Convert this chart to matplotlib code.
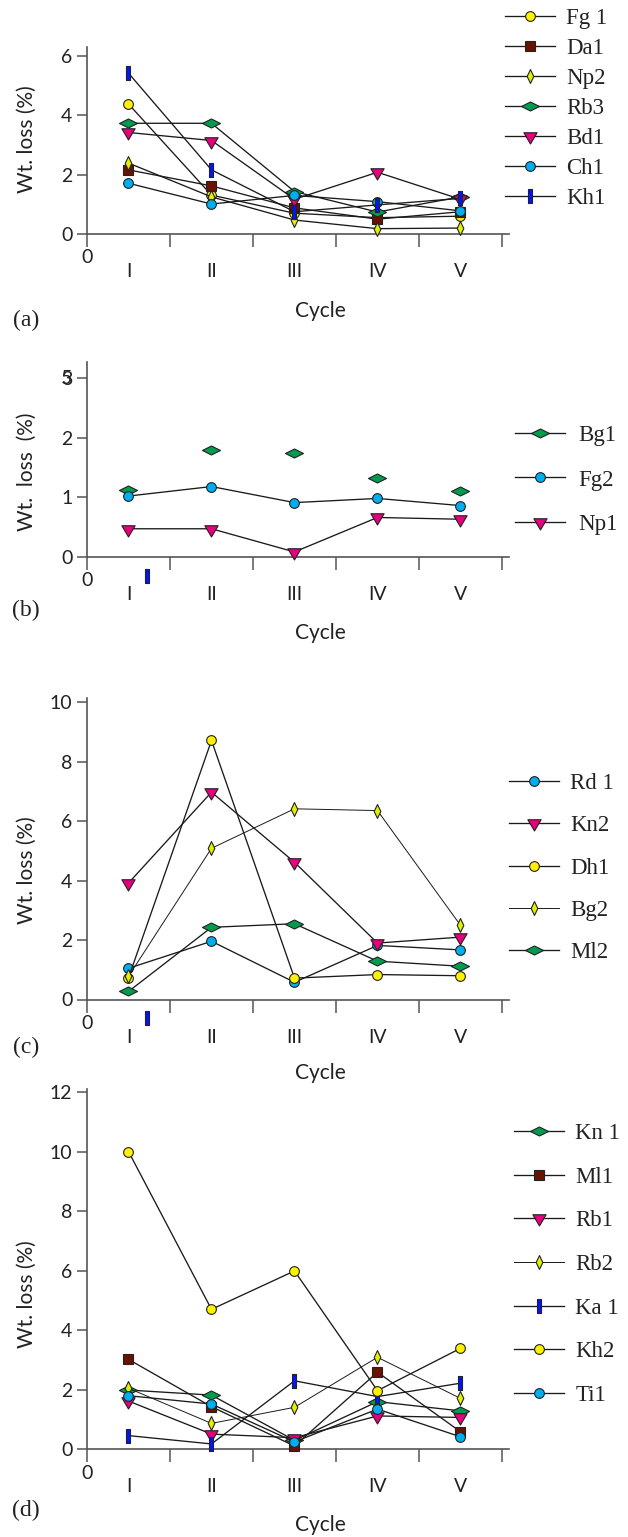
import matplotlib
matplotlib.use('Agg')
import matplotlib.pyplot as plt
from matplotlib.path import Path
from matplotlib.lines import Line2D

W, H = 628, 1537
DPI = 100

cycles = ['I', 'II', 'III', 'IV', 'V']
xpos = [0.5, 1.5, 2.5, 3.5, 4.5]

# ---------------- data ----------------
# panel (a)
a_fg1 = [4.38, 1.31, 0.70, 0.55, 0.60]
a_da1 = [2.16, 1.62, 0.88, 0.50, 0.75]
a_np2 = [2.39, 1.25, 0.47, 0.18, 0.20]
a_rb3 = [3.73, 3.73, 1.43, 0.74, 1.25]
a_bd1 = [3.42, 3.15, 1.17, 2.08, 1.17]
a_ch1 = [1.71, 1.01, 1.30, 1.09, 0.78]
a_kh1 = [5.42, 2.16, 0.75, 0.98, 1.20]

# panel (b)
b_bg1 = [1.12, 1.80, 1.75, 1.32, 1.10]
b_fg2 = [1.02, 1.18, 0.91, 0.98, 0.86]
b_np1 = [0.47, 0.47, 0.08, 0.66, 0.63]
b_stray = [(0.72, -0.32)]

# panel (c)
c_rd1 = [1.05, 1.96, 0.58, 1.82, 1.67]
c_kn2 = [3.92, 6.98, 4.62, 1.90, 2.10]
c_dh1 = [0.73, 8.72, 0.72, 0.84, 0.80]
c_bg2 = [0.78, 5.09, 6.42, 6.36, 2.50]
c_ml2 = [0.27, 2.43, 2.55, 1.29, 1.12]
c_stray = [(0.72, -0.62)]

# panel (d)
d_kn1 = [1.99, 1.82, 0.30, 1.60, 1.29]
d_ml1 = [3.02, 1.43, 0.11, 2.59, 0.59]
d_rb1 = [1.62, 0.51, 0.39, 1.12, 1.07]
d_rb2 = [2.05, 0.87, 1.41, 3.09, 1.71]
d_ka1 = [0.46, 0.18, 2.30, 1.77, 2.22]
d_kh2 = [10.0, 4.70, 5.99, 1.97, 3.39]
d_ti1 = [1.80, 1.52, 0.25, 1.35, 0.42]

# ---------------- styles ----------------
YELLOW = '#FFF200'
BROWN = '#6A1200'
LIME = '#E2F000'
GREEN = '#009B4E'
PINK = '#E6007E'
CYAN = '#00AEEF'
BLUE = '#0014FF'
EDGE = '#222222'
LINE = '#1a1a1a'
AXC = '#555555'


def closed(verts):
    return Path(list(verts) + [verts[0]], closed=True)


WIDE_DIAMOND = closed([(-1, 0), (0, 0.5), (1, 0), (0, -0.5)])
TALL_DIAMOND = closed([(-0.48, 0), (0, 1), (0.48, 0), (0, -1)])
BAR = closed([(-0.3, -1), (0.3, -1), (0.3, 1), (-0.3, 1)])
TRI = closed([(-1, 0.567), (1, 0.567), (0, -1.133)])

M = {
    'circ': dict(marker='o', ms=7.0),
    'sq': dict(marker='s', ms=7.8),
    'wd': dict(marker=WIDE_DIAMOND, ms=13),
    'td': dict(marker=TALL_DIAMOND, ms=10),
    'bar': dict(marker=BAR, ms=9.6),
    'tri': dict(marker=TRI, ms=10.8),
}

plt.rcParams['font.family'] = ['Lato', 'DejaVu Sans']
fig = plt.figure(figsize=(W / DPI, H / DPI), dpi=DPI)

LEFT, RIGHT = 87, 508.6
TICKFS = 14
LABFS = 15
LEGFS = 16.5
SERIF = ['Liberation Serif', 'DejaVu Serif']


def make_ax(bottom_px, top_px, ymax, yticks, ylabel, ylab_frac):
    rect = [LEFT / W, 1 - bottom_px / H, (RIGHT - LEFT) / W, (bottom_px - top_px) / H]
    ax = fig.add_axes(rect)
    ax.set_xlim(0, 5.08)
    ax.set_ylim(0, ymax)
    for s in ['top', 'right']:
        ax.spines[s].set_visible(False)
    for s in ['left', 'bottom']:
        ax.spines[s].set_color(AXC)
        ax.spines[s].set_linewidth(1.2)
    ax.set_xticks(range(6))
    ax.set_xticklabels(['0', '', '', '', '', ''])
    ax.set_xticks(xpos, minor=True)
    ax.set_xticklabels(cycles, minor=True)
    ax.tick_params(axis='x', which='major', direction='out', length=9.5, width=1.1,
                   color=AXC, pad=1.5, labelsize=TICKFS, labelcolor='#222222')
    ax.tick_params(axis='x', which='minor', length=0, pad=21, labelsize=TICKFS,
                   labelcolor='#222222')
    ax.set_yticks(yticks)
    ax.tick_params(axis='y', direction='out', length=7.2, width=1.1, color=AXC,
                   pad=3.4, labelsize=TICKFS, labelcolor='#222222')
    ax.set_ylabel(ylabel, fontsize=LABFS, color='#222222')
    wpx = RIGHT - LEFT
    ax.yaxis.set_label_coords((27 - LEFT) / wpx, ylab_frac)
    ax.yaxis.label.set_va('center')
    return ax


def series(ax, vals, face, mk, lw=0.95, ls='-', z=3, label=None, edge=EDGE):
    ln, = ax.plot(xpos, vals, color=LINE, lw=lw, ls=ls, mfc=face, mec=edge, mew=0.8,
                  zorder=z, clip_on=False, label=label, **M[mk])
    return ln


def legend(ax, handles, labels, x_px, yc_px, spacing, tpad=0.5):
    leg = ax.legend(handles, labels, loc='center left',
                    bbox_to_anchor=(x_px / W, 1 - yc_px / H),
                    bbox_transform=fig.transFigure, frameon=False,
                    prop={'family': SERIF, 'size': LEGFS}, handlelength=2.18,
                    handletextpad=tpad, labelspacing=spacing, borderpad=0,
                    borderaxespad=0, numpoints=1)
    for t in leg.get_texts():
        t.set_color('#222222')
    return leg


def labels(cyc_y, panel_y, letter):
    fig.text(320 / W, 1 - cyc_y / H, 'Cycle', ha='center', va='center',
             fontsize=LABFS, color='#222222')
    fig.text(26 / W, 1 - panel_y / H, letter, ha='center', va='center',
             fontsize=17, family=SERIF, color='#222222')


# ---------------- panel (a) ----------------
axa = make_ax(234, 47, 6.3, [0, 2, 4, 6], 'Wt. loss (%)', 0.51)
ha = [
    series(axa, a_fg1, YELLOW, 'circ'),
    series(axa, a_da1, BROWN, 'sq'),
    series(axa, a_np2, LIME, 'td'),
    series(axa, a_rb3, GREEN, 'wd'),
    series(axa, a_bd1, PINK, 'tri'),
    series(axa, a_ch1, CYAN, 'circ'),
    series(axa, a_kh1, BLUE, 'bar'),
]
legend(axa, ha, ['Fg 1', 'Da1', 'Np2', 'Rb3', 'Bd1', 'Ch1', 'Kh1'], 505, 108.5, 0.39)
labels(311, 320, '(a)')

# ---------------- panel (b) ----------------
axb = make_ax(556.7, 361.7, 3.28, [0, 1, 2, 3], 'Wt.  loss  (%)', 0.434)
axb.annotate('5', xy=(0, 3), xycoords=('axes fraction', 'data'),
             xytext=(-(7.2 + 3.4), 0), textcoords='offset points',
             ha='right', va='center', fontsize=TICKFS, color='#222222')
hb1 = series(axb, b_bg1, GREEN, 'wd', ls='none')
hb2 = series(axb, b_fg2, CYAN, 'circ')
hb3 = series(axb, b_np1, PINK, 'tri')
for (sx, sy) in b_stray:
    axb.plot([sx], [sy], ls='none', mfc=BLUE, mec=EDGE, mew=0.8, clip_on=False, **M['bar'])
proxy_bg1 = Line2D([], [], color=LINE, lw=0.95, mfc=GREEN, mec=EDGE, mew=0.8, **M['wd'])
legend(axb, [proxy_bg1, hb2, hb3], ['Bg1', 'Fg2', 'Np1'], 515, 480, 1.03, tpad=0.6)
labels(633, 610, '(b)')

# ---------------- panel (c) ----------------
axc = make_ax(999.5, 698, 10.15, [0, 2, 4, 6, 8, 10], 'Wt. loss (%)', 0.43)
hc = [
    series(axc, c_rd1, CYAN, 'circ'),
    series(axc, c_kn2, PINK, 'tri'),
    series(axc, c_dh1, YELLOW, 'circ'),
    series(axc, c_bg2, LIME, 'td', lw=0.7),
    series(axc, c_ml2, GREEN, 'wd'),
]
for (sx, sy) in c_stray:
    axc.plot([sx], [sy], ls='none', mfc=BLUE, mec=EDGE, mew=0.8, clip_on=False, **M['bar'])
legend(axc, hc, ['Rd 1', 'Kn2', 'Dh1', 'Bg2', 'Ml2'], 509, 868, 0.93)
labels(1073, 1047, '(c)')

# ---------------- panel (d) ----------------
axd = make_ax(1449.3, 1089, 12.1, [0, 2, 4, 6, 8, 10, 12], 'Wt. loss (%)', 0.43)
hd = [
    series(axd, d_kn1, GREEN, 'wd'),
    series(axd, d_ml1, BROWN, 'sq'),
    series(axd, d_rb1, PINK, 'tri'),
    series(axd, d_rb2, LIME, 'td', lw=0.7),
    series(axd, d_ka1, BLUE, 'bar'),
    series(axd, d_kh2, YELLOW, 'circ'),
    series(axd, d_ti1, CYAN, 'circ'),
]
legend(axd, hd, ['Kn 1', 'Ml1', 'Rb1', 'Rb2', 'Ka 1', 'Kh2', 'Ti1'], 514, 1264.5, 0.99)
labels(1525, 1510, '(d)')

fig.savefig('out.png', dpi=DPI)
